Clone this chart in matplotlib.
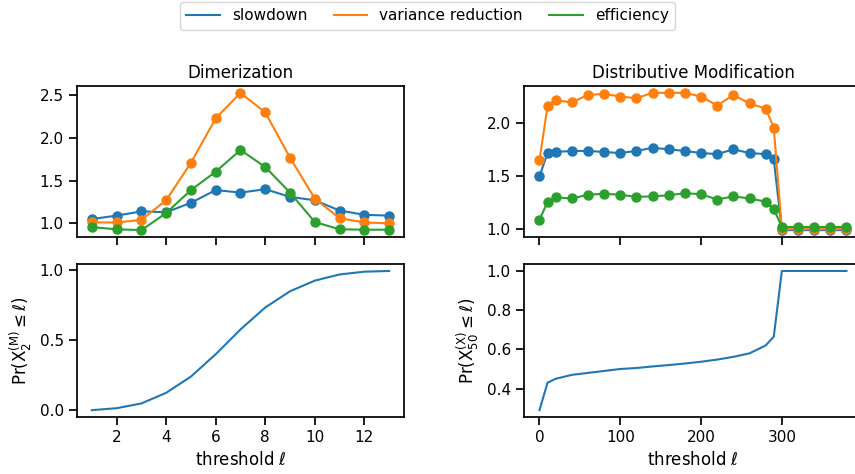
import matplotlib
matplotlib.use("Agg")
import matplotlib.pyplot as plt

# Dimerization
dim_thresholds = [1, 2, 3, 4, 5, 6, 7, 8, 9, 10, 11, 12, 13]
dim_slowdown = [1.05, 1.09, 1.14, 1.13, 1.24, 1.39, 1.36, 1.40, 1.31, 1.27, 1.15, 1.10, 1.09]
dim_variance = [1.01, 1.01, 1.04, 1.27, 1.71, 2.23, 2.53, 2.30, 1.77, 1.29, 1.06, 1.01, 1.00]
dim_efficiency = [0.955, 0.93, 0.92, 1.12, 1.39, 1.605, 1.86, 1.66, 1.36, 1.015, 0.93, 0.925, 0.925]
dim_cdf = [0.0, 0.014, 0.048, 0.124, 0.24, 0.40, 0.577, 0.734, 0.85, 0.926, 0.97, 0.99, 0.995]

# Distributive Modification
dm_thresholds = [0, 10, 20, 40, 60, 80, 100, 120, 140, 160, 180, 200, 220, 240,
                 260, 280, 290, 300, 320, 340, 360, 380]
dm_slowdown = [1.50, 1.72, 1.73, 1.74, 1.74, 1.73, 1.72, 1.74, 1.77, 1.755, 1.74, 1.72,
               1.71, 1.755, 1.72, 1.71, 1.66, 0.99, 0.99, 0.99, 0.99, 0.99]
dm_variance = [1.65, 2.165, 2.22, 2.20, 2.27, 2.28, 2.255, 2.24, 2.29, 2.29, 2.29, 2.255,
               2.17, 2.27, 2.19, 2.14, 1.96, 1.0, 1.0, 1.0, 1.0, 1.0]
dm_efficiency = [1.09, 1.255, 1.30, 1.29, 1.325, 1.335, 1.325, 1.305, 1.31, 1.32, 1.34, 1.33,
                 1.28, 1.31, 1.29, 1.26, 1.19, 1.02, 1.02, 1.02, 1.02, 1.02]
dm_cdf = [0.29, 0.43, 0.45, 0.47, 0.48, 0.49, 0.50, 0.505, 0.513, 0.52, 0.528, 0.537,
          0.548, 0.562, 0.58, 0.62, 0.665, 1.0, 1.0, 1.0, 1.0, 1.0]

# seaborn "notebook"-like sizes
plt.rcParams.update({
    "font.size": 12,
    "axes.labelsize": 12,
    "axes.titlesize": 12,
    "xtick.labelsize": 11,
    "ytick.labelsize": 11,
    "legend.fontsize": 11,
    "axes.linewidth": 1.25,
    "xtick.major.size": 6,
    "ytick.major.size": 6,
    "xtick.major.width": 1.25,
    "ytick.major.width": 1.25,
    "lines.linewidth": 1.5,
    "lines.markersize": 6.5,
    "mathtext.fontset": "dejavusans",
})

fig = plt.figure(figsize=(8.55, 4.74), dpi=100)
ax_tl = fig.add_axes([0.090, 0.500, 0.3825, 0.3186])
ax_bl = fig.add_axes([0.090, 0.120, 0.3825, 0.323], sharex=ax_tl)
ax_tr = fig.add_axes([0.613, 0.500, 0.395, 0.3186])
ax_br = fig.add_axes([0.613, 0.120, 0.395, 0.323], sharex=ax_tr)

series = [("slowdown", "C0"), ("variance reduction", "C1"), ("efficiency", "C2")]

for ax, xs, ys_list, title in [
    (ax_tl, dim_thresholds, [dim_slowdown, dim_variance, dim_efficiency], "Dimerization"),
    (ax_tr, dm_thresholds, [dm_slowdown, dm_variance, dm_efficiency], "Distributive Modification"),
]:
    for (label, color), ys in zip(series, ys_list):
        ax.plot(xs, ys, "-o", color=color, label=label)
    ax.set_title(title)
    ax.tick_params(labelbottom=False)

ax_tl.set_yticks([1.0, 1.5, 2.0, 2.5])
ax_tr.set_yticks([1.0, 1.5, 2.0])

ax_bl.plot(dim_thresholds, dim_cdf, color="C0")
ax_bl.set_xticks([2, 4, 6, 8, 10, 12])
ax_bl.set_yticks([0.0, 0.5, 1.0])
ax_bl.set_xlabel(r"threshold $\ell$")
ax_bl.set_ylabel(r"Pr($\mathrm{X}_2^{(\mathrm{M})} \leq \ell$)")

ax_br.plot(dm_thresholds, dm_cdf, color="C0")
ax_br.set_xticks([0, 100, 200, 300])
ax_br.set_yticks([0.4, 0.6, 0.8, 1.0])
ax_br.set_xlabel(r"threshold $\ell$")
ax_br.set_ylabel(r"Pr($\mathrm{X}_{50}^{(\mathrm{X})} \leq \ell$)")

handles = [plt.Line2D([], [], color=c) for _, c in series]
fig.legend(handles, [l for l, _ in series], loc="upper center",
           bbox_to_anchor=(0.5, 1.0), ncol=3, frameon=True, handlelength=2.2,
           columnspacing=1.7, borderaxespad=0.15)

fig.savefig("out.png", dpi=100)
